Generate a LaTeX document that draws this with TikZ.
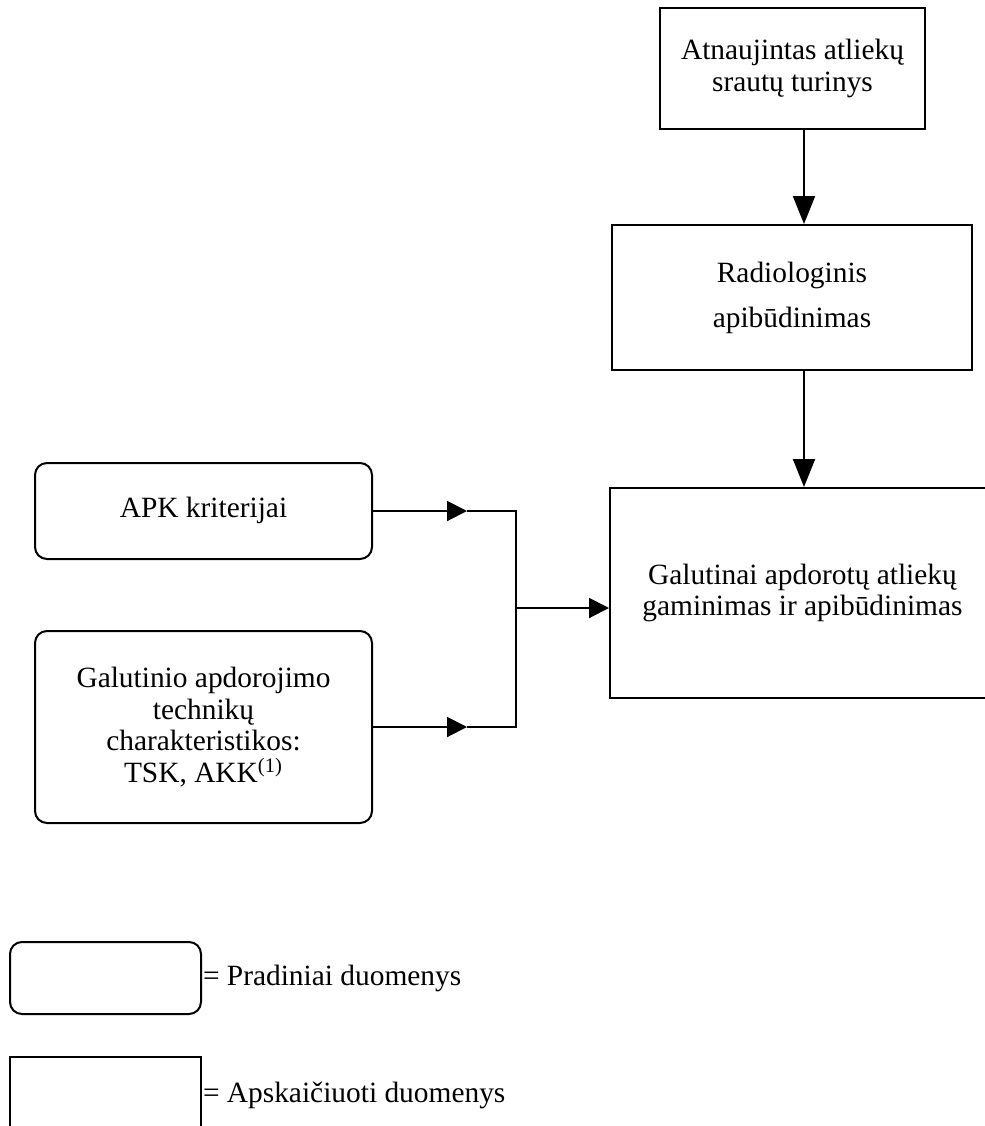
\documentclass[tikz,border=0pt]{standalone}
\usepackage{fontspec}
\setmainfont{Liberation Serif}
\usetikzlibrary{arrows.meta,positioning}

\begin{document}
\begin{tikzpicture}[%
        x=0.5pt, y=-0.5pt,
        line width=1pt,
        font=\fontsize{14.7}{15.9}\selectfont,
        box/.style={draw, align=center, inner sep=0pt},
        given/.style={box, rounded corners=6pt},
        vflow/.style={-{Triangle[length=14pt,width=11pt]}},
        hflow/.style={-{Triangle[length=10pt,width=10pt]}}
        ]

        \useasboundingbox (0,0) rectangle (985,1126);
        \clip (0,0) rectangle (985,1126);

        \node[box, minimum width=132.5pt, minimum height=60.5pt] (update) at (792.5,68.5) {Atnaujintas atliekų\\srautų turinys};
        \node[box, minimum width=180pt, minimum height=72.5pt, font=\fontsize{14.7}{22.5}\selectfont] (radio) at (792,297.5) {Radiologinis\\apibūdinimas};
        \node[box, minimum width=192.5pt, minimum height=105pt] (final) at (802.5,593) {Galutinai apdorotų atliekų\\gaminimas ir apibūdinimas};
        \node[given, minimum width=168.5pt, minimum height=48pt] (apk) at (203.5,511) {\raisebox{4pt}{APK kriterijai}};
        \node[given, minimum width=168.5pt, minimum height=96pt] (tech) at (203.5,727) {Galutinio apdorojimo\\technikų\\charakteristikos:\\TSK, AKK\textsuperscript{(1)}};

        \node[given, minimum width=95.5pt, minimum height=36pt] (keygiven) at (105.5,978) {};
        \node[box, minimum width=95.5pt, minimum height=40pt] (keycalc) at (105.5,1097) {};
        \node[anchor=west, inner sep=0pt] (keygivenlbl) at (keygiven.east) {= Pradiniai duomenys};
        \node[anchor=west, inner sep=0pt] (keycalclbl) at (keycalc.east |- 0,1095) {= Apskaičiuoti duomenys};

        \coordinate (ax) at (804,0);
        \coordinate (tipA) at (467,511);
        \coordinate (tipB) at (467,727);
        \coordinate (joinA) at (516,511);
        \coordinate (joinB) at (516,727);
        \coordinate (joinM) at (516,608);

        \draw[vflow] (update.south -| ax) -- (radio.north -| ax);
        \draw[vflow] (radio.south -| ax) -- (final.north -| ax);
        \draw[hflow] (apk.east) -- (tipA);
        \draw[hflow] (tech.east) -- (tipB);
        \draw (tipA) -- (joinA) -- (joinB) -- (tipB);
        \draw[hflow] (joinM) -- (joinM -| final.west);

\end{tikzpicture}
\end{document}
